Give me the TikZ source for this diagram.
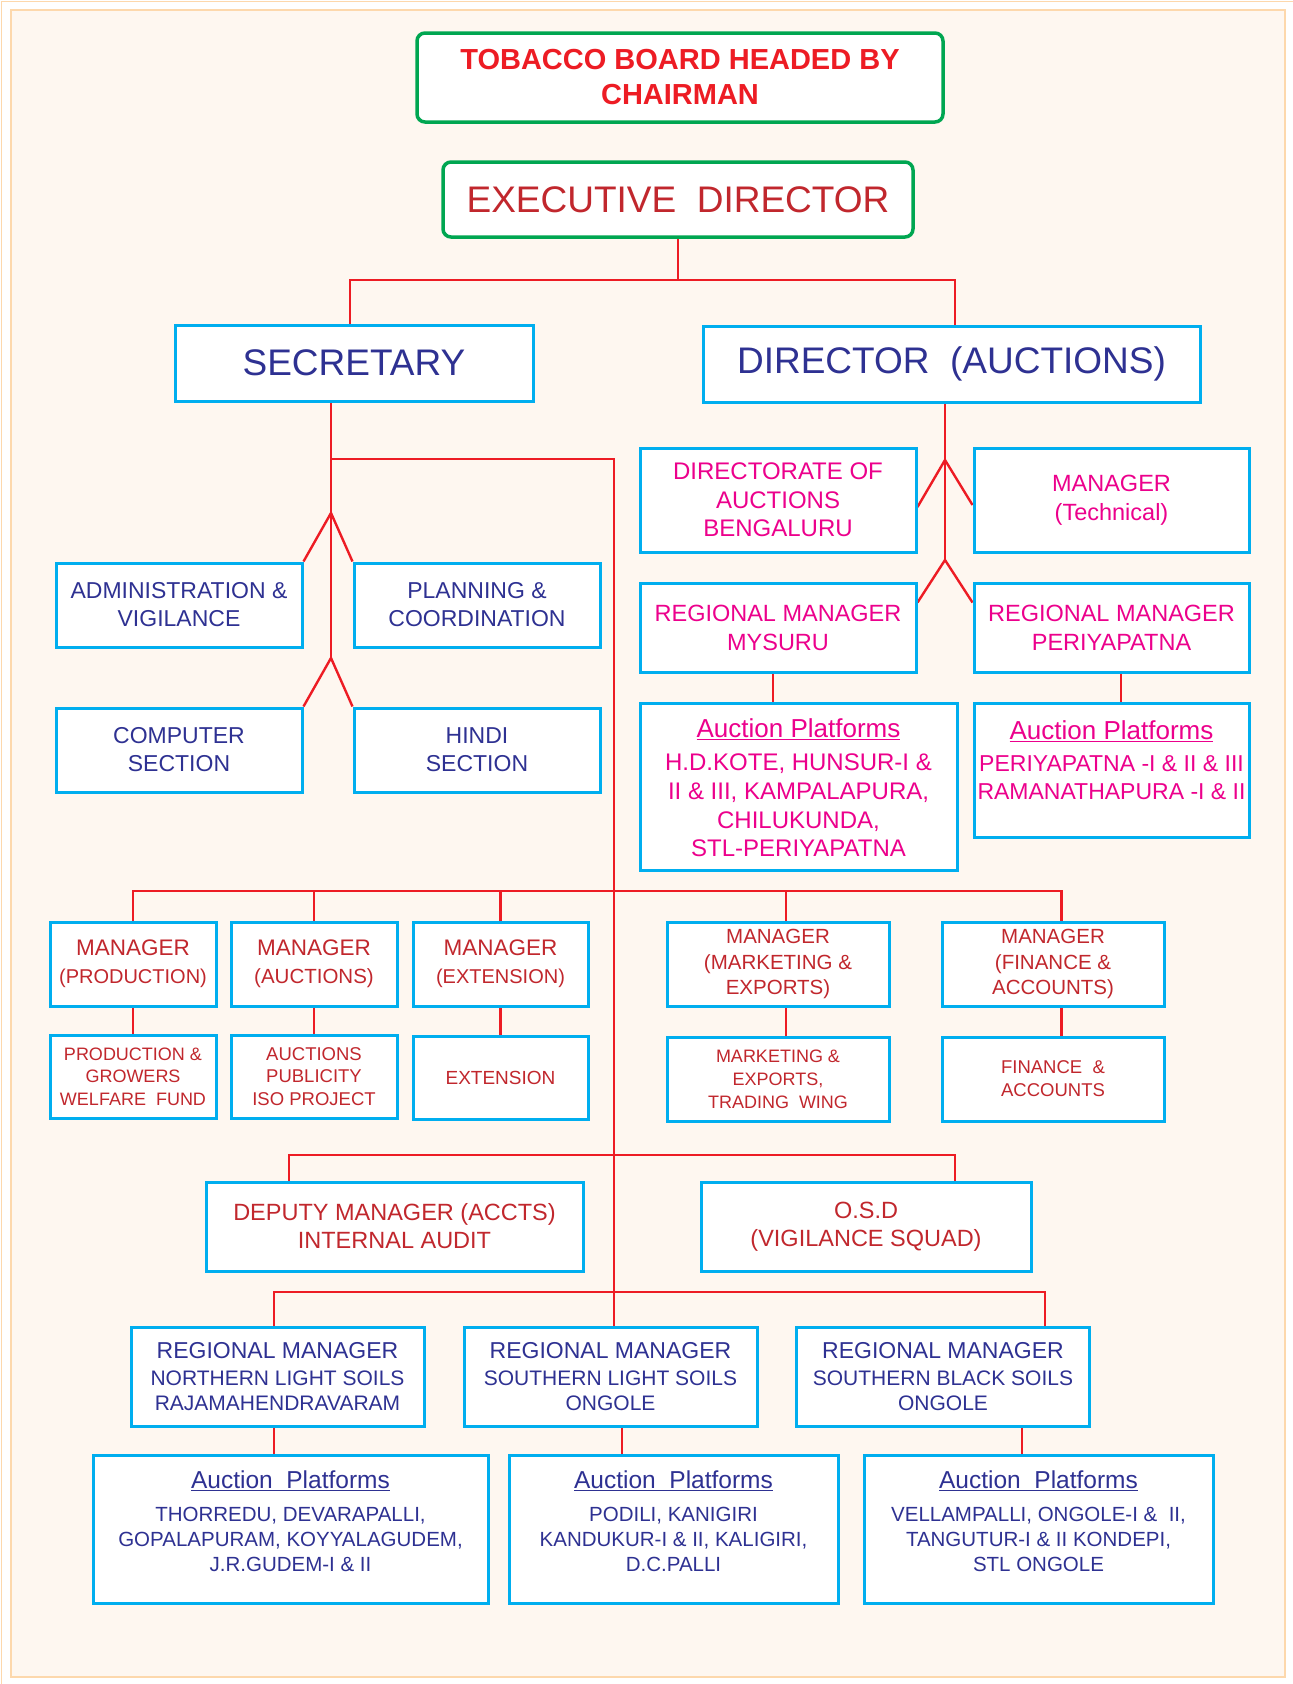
\documentclass[tikz,border=0pt]{standalone}
\usepackage{fontspec}
\setmainfont{Liberation Sans}
\usetikzlibrary{backgrounds}
\definecolor{boxcyan}{HTML}{00AEEF}
\definecolor{boxgreen}{HTML}{00A651}
\definecolor{linkred}{HTML}{ED1C24}
\definecolor{navytext}{HTML}{2E3192}
\definecolor{pinktext}{HTML}{EC008C}
\definecolor{redtext}{HTML}{C1272D}
\definecolor{cream}{HTML}{FEF7F0}
\definecolor{framepeach}{HTML}{FDD8AC}
\newcommand{\fsz}[2]{\fontsize{#1}{#2}\selectfont}

\begin{document}
\begin{tikzpicture}[x=1pt,y=-1pt,
	box/.style={draw=boxcyan, line width=3pt, fill=white, align=center, inner sep=2pt},
	headbox/.style={draw=boxgreen, line width=3.5pt, rounded corners=8pt, fill=white, align=center},
	wh/.style 2 args={minimum width=#1, minimum height=#2},
	link/.style={draw=linkred, line width=2.4pt},
	navytx/.style={text=navytext},
	pinktx/.style={text=pinktext},
	redtx/.style={text=redtext}]
	\useasboundingbox (0,0) rectangle (1293,1684);
	\node[headbox, wh={526}{89}, text=linkred, font=\fsz{29}{35}\bfseries] (chair) at (680,77.5) {TOBACCO BOARD HEADED BY\\CHAIRMAN};
	\node[headbox, wh={470}{75}, redtx, font=\fsz{37}{44}] (exec) at (678,199.5) {EXECUTIVE~~DIRECTOR};
	\node[box, wh={358}{76}, navytx, font=\fsz{37}{44}] (sec) at (354,363) {SECRETARY};
	\node[box, wh={497}{76}, navytx, font=\fsz{37}{44}] (dir) at (951.5,364) {DIRECTOR~~(AUCTIONS)};
	\node[box, wh={246}{84}, navytx, font=\fsz{23}{28}] (admin) at (179,605) {ADMINISTRATION \&\\VIGILANCE};
	\node[box, wh={246}{84}, navytx, font=\fsz{23}{28}] (plan) at (477,605) {PLANNING \&\\COORDINATION};
	\node[box, wh={246}{84}, navytx, font=\fsz{23}{28}] (comp) at (179,750) {COMPUTER\\SECTION};
	\node[box, wh={246}{84}, navytx, font=\fsz{23}{28}] (hindi) at (477,750) {HINDI\\SECTION};
	\node[box, wh={276}{104}, pinktx, font=\fsz{24}{28.5}] (dauc) at (778,500) {DIRECTORATE OF\\AUCTIONS\\BENGALURU};
	\node[box, wh={275}{104}, pinktx, font=\fsz{23.5}{29}] (mtech) at (1111.5,500) {MANAGER\\(Technical)};
	\node[box, wh={276}{89}, pinktx, font=\fsz{23.5}{29}] (rmmys) at (778,627.5) {REGIONAL MANAGER\\MYSURU};
	\node[box, wh={275}{89}, pinktx, font=\fsz{23.5}{29}] (rmper) at (1111.5,627.5) {REGIONAL MANAGER\\PERIYAPATNA};
	\node[box, wh={317}{167}] (apmys) at (798.5,786.5) {};
	\node[pinktx, align=center, font=\fsz{24}{28.7}] (apmyslist) at (798.5,788) {{\fsz{26}{30}\underline{Auction Platforms}}\\[4pt]H.D.KOTE, HUNSUR-I \&\\II \& III, KAMPALAPURA,\\CHILUKUNDA,\\STL-PERIYAPATNA};
	\node[box, wh={275}{134}] (apper) at (1111.5,770) {};
	\node[pinktx, align=center, font=\fsz{23}{28}] (apperlist) at (1111.5,760) {{\fsz{26}{30}\underline{Auction Platforms}}\\[4pt]PERIYAPATNA -I \& II \& III\\RAMANATHAPURA -I \& II};
	\node[box, wh={166}{84}, redtx, font=\fsz{22.5}{28}] (mprod) at (133,964) {MANAGER\\{\fsz{20}{28}(PRODUCTION)}};
	\node[box, wh={166}{84}, redtx, font=\fsz{22.5}{28}] (mauc) at (314,964) {MANAGER\\{\fsz{20.5}{28}(AUCTIONS)}};
	\node[box, wh={175}{84}, redtx, font=\fsz{22.5}{28}] (mext) at (500.5,964) {MANAGER\\{\fsz{20}{28}(EXTENSION)}};
	\node[box, wh={222}{84}, redtx, font=\fsz{20.5}{25.5}] (mmkt) at (778,964) {MANAGER\\(MARKETING \&\\EXPORTS)};
	\node[box, wh={222}{84}, redtx, font=\fsz{20.5}{25.5}] (mfin) at (1053,964) {MANAGER\\(FINANCE \&\\ACCOUNTS)};
	\node[box, wh={166}{83}, redtx, font=\fsz{18}{22.5}] (prod) at (133,1076.5) {PRODUCTION \&\\GROWERS\\WELFARE~~FUND};
	\node[box, wh={166}{83}, redtx, font=\fsz{18.5}{22.5}] (auc) at (314,1076.5) {AUCTIONS\\PUBLICITY\\ISO PROJECT};
	\node[box, wh={175}{83}, redtx, font=\fsz{19}{23}] (ext) at (500.5,1077.5) {EXTENSION};
	\node[box, wh={222}{84}, redtx, font=\fsz{18}{23}] (mkt) at (778,1079) {MARKETING \&\\EXPORTS,\\TRADING~~WING};
	\node[box, wh={222}{84}, redtx, font=\fsz{18.5}{23}] (fin) at (1053,1079) {FINANCE~~\&\\ACCOUNTS};
	\node[box, wh={377}{89}, redtx, font=\fsz{23.5}{28}] (dep) at (394.5,1226.5) {DEPUTY MANAGER (ACCTS)\\INTERNAL AUDIT};
	\node[box, wh={330}{89}, redtx, font=\fsz{23.5}{28}] (osd) at (866,1226.5) {O.S.D\\(VIGILANCE SQUAD)};
	\node[box, wh={293}{99}, navytx, font=\fsz{21}{24.5}] (rmn) at (277.5,1376.5) {{\fsz{23}{28}REGIONAL MANAGER}\\[3pt]NORTHERN LIGHT SOILS\\RAJAMAHENDRAVARAM};
	\node[box, wh={293}{99}, navytx, font=\fsz{21}{24.5}] (rms) at (610.5,1376.5) {{\fsz{23}{28}REGIONAL MANAGER}\\[3pt]SOUTHERN LIGHT SOILS\\ONGOLE};
	\node[box, wh={293}{99}, navytx, font=\fsz{21}{24.5}] (rmb) at (943,1376.5) {{\fsz{23}{28}REGIONAL MANAGER}\\[3pt]SOUTHERN BLACK SOILS\\ONGOLE};
	\node[box, wh={395}{148}] (ap1) at (290.5,1529) {};
	\node[navytx, align=center, font=\fsz{20.5}{25}] (ap1list) at (290.5,1521) {{\fsz{24.5}{28}\underline{Auction~~Platforms}}\\[8pt]THORREDU, DEVARAPALLI,\\GOPALAPURAM, KOYYALAGUDEM,\\J.R.GUDEM-I \& II};
	\node[box, wh={329}{148}] (ap2) at (673.5,1529) {};
	\node[navytx, align=center, font=\fsz{20.5}{25}] (ap2list) at (673.5,1521) {{\fsz{24.5}{28}\underline{Auction~~Platforms}}\\[8pt]PODILI, KANIGIRI\\KANDUKUR-I \& II, KALIGIRI,\\D.C.PALLI};
	\node[box, wh={349}{148}] (ap3) at (1038.5,1529) {};
	\node[navytx, align=center, font=\fsz{20.5}{25}] (ap3list) at (1038.5,1521) {{\fsz{24.5}{28}\underline{Auction~~Platforms}}\\[8pt]VELLAMPALLI, ONGOLE-I \&~~II,\\TANGUTUR-I \& II KONDEPI,\\STL ONGOLE};
	\begin{scope}[on background layer]
	\fill[white] (0,0) rectangle (1293,1684);
	\draw[framepeach, line width=1.5pt] (1293,1.5) -- (1.5,1.5) -- (1.5,1684);
	\draw[framepeach, line width=1.5pt, fill=cream] (11,10) rectangle (1285,1677);
	\coordinate (sectop) at ([xshift=-23pt]sec.south);
	\coordinate (secbranch) at (331,459);
	\coordinate (secfork1) at (331,513);
	\coordinate (secfork2) at (331,658);
	\coordinate (dirtop) at ([xshift=-6.5pt]dir.south);
	\coordinate (dirfork1) at (945,460);
	\coordinate (dirfork2) at (945,560);
	\coordinate (trunkend) at ([xshift=3.5pt]rms.north);
	\coordinate (mysdrop) at ([xshift=-5pt]rmmys.south);
	\coordinate (perdrop) at ([xshift=9.5pt]rmper.south);
	\coordinate (mgrbus) at (614,891);
	\coordinate (mktdrop) at ([xshift=8pt]mmkt.north);
	\coordinate (findrop) at ([xshift=8.5pt]mfin.north);
	\coordinate (depbus) at (614,1155);
	\coordinate (depdrop) at ([xshift=-105.5pt]dep.north);
	\coordinate (osddrop) at ([xshift=89pt]osd.north);
	\coordinate (rmbus) at (614,1292);
	\coordinate (rmndrop) at ([xshift=-3.5pt]rmn.north);
	\coordinate (rmbdrop) at ([xshift=102pt]rmb.north);
	\coordinate (rmsdown) at ([xshift=11.5pt]rms.south);
	\coordinate (rmbdown) at ([xshift=79pt]rmb.south);
	\draw[link] (exec.south) -- ++(0,41.5) coordinate (edjoin);
	\draw[link] ([xshift=-4pt]sec.north) |- (edjoin) -| ([xshift=3.5pt]dir.north);
	\draw[link] (sectop) -- (secfork2);
	\draw[link] (admin.north east) -- (secfork1) -- (plan.north west);
	\draw[link] (comp.north east) -- (secfork2) -- (hindi.north west);
	\draw[link] (secbranch) -| (trunkend);
	\draw[link] (dirtop) -- (dirfork2);
	\draw[link] ([yshift=-7pt]dauc.east) -- (dirfork1) -- ([yshift=-5pt]mtech.west);
	\draw[link] ([yshift=-21pt]rmmys.north east) -- (dirfork2) -- ([yshift=-21pt]rmper.north west);
	\draw[link] (mysdrop) -- (mysdrop |- apmys.north);
	\draw[link] (perdrop) -- (perdrop |- apper.north);
	\draw[link] (mprod.north) |- (findrop |- mgrbus) -- (findrop);
	\draw[link] (mauc.north) -- (mauc.north |- mgrbus);
	\draw[link] (mext.north) -- (mext.north |- mgrbus);
	\draw[link] (mktdrop) -- (mktdrop |- mgrbus);
	\draw[link] (mprod.south) -- (prod.north);
	\draw[link] (mauc.south) -- (auc.north);
	\draw[link] (mext.south) -- (ext.north);
	\draw[link] (mktdrop |- mmkt.south) -- (mktdrop |- mkt.north);
	\draw[link] (findrop |- mfin.south) -- (findrop |- fin.north);
	\draw[link] (depdrop) |- (depbus) -| (osddrop);
	\draw[link] (rmndrop) |- (rmbus) -| (rmbdrop);
	\draw[link] (rmndrop |- rmn.south) -- (rmndrop |- ap1.north);
	\draw[link] (rmsdown) -- (rmsdown |- ap2.north);
	\draw[link] (rmbdown) -- (rmbdown |- ap3.north);
	\end{scope}
\end{tikzpicture}
\end{document}
